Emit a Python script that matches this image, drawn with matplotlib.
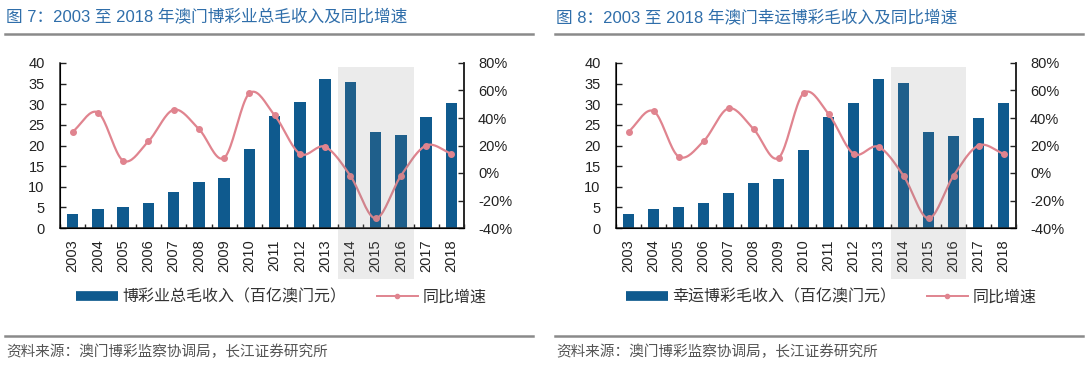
import numpy as np
import matplotlib
matplotlib.use("Agg")
import matplotlib.pyplot as plt
from matplotlib.lines import Line2D
from matplotlib.ticker import FuncFormatter, MultipleLocator

plt.rcParams['font.family'] = ['Liberation Sans', 'Noto Sans CJK SC', 'DejaVu Sans']

# Data
years = [str(y) for y in range(2003, 2019)]

# 图7 博彩业总毛收入 (百亿澳门元) and 同比增速
total_ggr = [3.3, 4.7, 5.0, 6.1, 8.7, 11.1, 12.2, 19.1, 27.1, 30.6, 36.1, 35.4, 23.3, 22.5, 26.9, 30.4]
total_yoy = [0.30, 0.44, 0.09, 0.23, 0.46, 0.32, 0.11, 0.58, 0.42, 0.14, 0.19, -0.02, -0.33, -0.02, 0.20, 0.14]

# 图8 幸运博彩毛收入 (百亿澳门元) and 同比增速
lucky_ggr = [3.4, 4.6, 5.0, 6.1, 8.5, 10.9, 12.0, 19.0, 26.8, 30.4, 36.2, 35.2, 23.2, 22.4, 26.6, 30.3]
lucky_yoy = [0.30, 0.45, 0.12, 0.23, 0.47, 0.32, 0.11, 0.58, 0.43, 0.14, 0.19, -0.02, -0.33, -0.02, 0.20, 0.14]

titles = ["图 7：2003 至 2018 年澳门博彩业总毛收入及同比增速",
          "图 8：2003 至 2018 年澳门幸运博彩毛收入及同比增速"]
bar_labels = ["博彩业总毛收入（百亿澳门元）", "幸运博彩毛收入（百亿澳门元）"]
line_label = "同比增速"
source = "资料来源：澳门博彩监察协调局，长江证券研究所"

BAR_C = '#0f5a8e'
LINE_C = '#e0848f'
TITLE_C = '#2f6eaa'
W, H = 1090, 371


def smooth(x, y, n=20):
    # Catmull-Rom curve through the points, like Excel's smoothed line
    x = np.asarray(x, float)
    y = np.asarray(y, float)
    px = np.concatenate([[2 * x[0] - x[1]], x, [2 * x[-1] - x[-2]]])
    py = np.concatenate([[2 * y[0] - y[1]], y, [2 * y[-1] - y[-2]]])
    t = np.linspace(0, 1, n, endpoint=False)
    xs, ys = [], []
    for i in range(1, len(px) - 2):
        for p, out in ((px, xs), (py, ys)):
            p0, p1, p2, p3 = p[i - 1], p[i], p[i + 1], p[i + 2]
            out.extend(0.5 * (2 * p1 + (-p0 + p2) * t
                              + (2 * p0 - 5 * p1 + 4 * p2 - p3) * t ** 2
                              + (-p0 + 3 * p1 - 3 * p2 + p3) * t ** 3))
    xs.append(x[-1])
    ys.append(y[-1])
    return np.array(xs), np.array(ys)


fig = plt.figure(figsize=(W / 100, H / 100), dpi=100)


def panel(px0, px1, vals, yoy, title, bar_label, off):
    ax = fig.add_axes([px0 / W, (H - 228) / H, (px1 - px0) / W, 165 / H])
    x = np.arange(len(years))
    ax.bar(x, vals, width=0.45, color=BAR_C, zorder=2)
    ax.set_xlim(-0.5, len(years) - 0.5)
    ax.set_ylim(0, 40)
    ax.yaxis.set_major_locator(MultipleLocator(5))
    ax.set_xticks(x)
    ax.set_xticklabels(years, rotation=90)
    ax.set_xticks(np.arange(-0.5, len(years), 1.0), minor=True)
    ax.tick_params(axis='x', which='major', length=0, pad=8, labelsize=10.5, colors='#222222')
    ax.tick_params(axis='x', which='minor', direction='in', length=3, width=1, color='#222222')
    ax.tick_params(axis='y', direction='in', length=4, width=1, pad=11, labelsize=10.5, colors='#222222')
    for s in ['top']:
        ax.spines[s].set_visible(False)
    for s in ['left', 'bottom', 'right']:
        ax.spines[s].set_linewidth(1.1)
        ax.spines[s].set_color('#222222')

    ax2 = ax.twinx()
    sx, sy = smooth(x, yoy)
    ax2.plot(sx, sy, color=LINE_C, lw=1.6, zorder=3)
    ax2.plot(x, yoy, 'o', color=LINE_C, ms=4, zorder=4)
    ax2.set_ylim(-0.4, 0.8)
    ax2.yaxis.set_major_locator(MultipleLocator(0.2))
    ax2.yaxis.set_major_formatter(FuncFormatter(lambda v, p: f"{v * 100:.0f}%"))
    ax2.tick_params(axis='y', direction='in', length=4, width=1, pad=10, labelsize=10.5, colors='#222222')
    ax2.spines['top'].set_visible(False)
    ax2.spines['right'].set_linewidth(1.1)
    ax2.spines['right'].set_color('#222222')

    # grey highlight over 2014-2016
    ax2.axvspan(10.5, 13.5, ymin=-0.31, ymax=0.975, color='#7f7f7f', alpha=0.15,
                lw=0, clip_on=False, zorder=5)

    # legend
    h1 = Line2D([], [], color=BAR_C, lw=7, solid_capstyle='butt')
    h2 = Line2D([], [], color=LINE_C, lw=1.4, marker='o', ms=3)
    fig.legend([h1, h2], [bar_label, line_label], ncol=2, frameon=False,
               loc='center left', bbox_to_anchor=((off + 68) / W, 1 - 297 / H),
               borderpad=0, handlelength=2.6, handletextpad=0.3, columnspacing=1.9,
               prop={'size': 11.5}, labelcolor='#333333')

    # title, rules, source
    fig.text((off + 6) / W, 1 - 17 / H, title, fontsize=12, color=TITLE_C, va='center')
    for yy in (34, 336):
        fig.add_artist(Line2D([(off + 5) / W, (off + 533) / W], [1 - yy / H, 1 - yy / H],
                              color='#8a8a8a', lw=1.8))
    fig.text((off + 6) / W, 1 - 352 / H, source, fontsize=10.5, color='#555555', va='center')


panel(60, 464, total_ggr, total_yoy, titles[0], bar_labels[0], 0)
panel(616, 1016, lucky_ggr, lucky_yoy, titles[1], bar_labels[1], 550)

fig.savefig("out.png", dpi=100)
